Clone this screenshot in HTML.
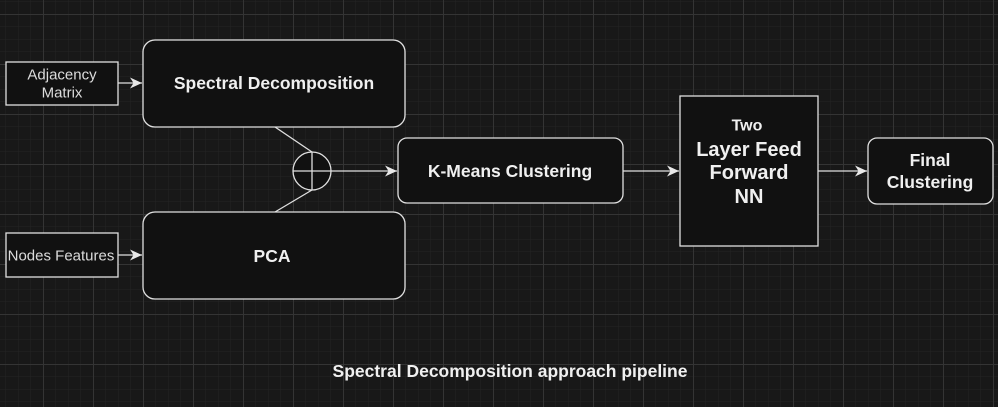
<!DOCTYPE html>
<html><head><meta charset="utf-8"><style>
html,body{margin:0;padding:0;background:#181818;}
svg{display:block}
text{font-family:"Liberation Sans",Arial,sans-serif;fill:#f0f0f0;text-anchor:middle;dominant-baseline:central}
</style></head><body>
<svg width="998" height="407" viewBox="0 0 998 407" xmlns="http://www.w3.org/2000/svg">
<defs>
<pattern id="minor" x="5.5" y="1.5" width="12.5" height="12.5" patternUnits="userSpaceOnUse">
<path d="M0 0H12.5M0 0V12.5" stroke="#242424" stroke-width="1" fill="none"/>
</pattern>
<pattern id="major" x="43" y="14" width="50" height="50" patternUnits="userSpaceOnUse">
<path d="M0 0.5H50M0.5 0V50" stroke="#343434" stroke-width="1" fill="none"/>
</pattern>
<marker id="ar" markerWidth="14" markerHeight="14" refX="12" refY="7" orient="auto" markerUnits="userSpaceOnUse">
<path d="M0 1.5L12 7L0 12.5L3.5 7Z" fill="#e8e8e8"/>
</marker>
</defs>
<rect width="998" height="407" fill="#181818"/>
<rect width="998" height="407" fill="url(#minor)"/>
<rect width="998" height="407" fill="url(#major)"/>
<g stroke="#e0e0e0" stroke-width="1.3" fill="#111">
<rect x="6" y="62" width="112" height="43"/>
<rect x="6" y="233" width="112" height="44"/>
<rect x="143" y="40" width="262" height="87" rx="12"/>
<rect x="143" y="212" width="262" height="87" rx="12"/>
<rect x="398" y="138" width="225" height="65" rx="9"/>
<rect x="680" y="96" width="138" height="150"/>
<rect x="868" y="138" width="125" height="66" rx="9"/>
<circle cx="312" cy="171" r="19"/>
</g>
<g stroke="#e0e0e0" stroke-width="1.3" fill="none">
<line x1="293" y1="171" x2="331" y2="171"/>
<line x1="312" y1="152" x2="312" y2="190"/>
<line x1="275" y1="127" x2="312" y2="152"/>
<line x1="275" y1="212" x2="312" y2="190"/>
<line x1="118" y1="83" x2="142" y2="83" marker-end="url(#ar)"/>
<line x1="118" y1="255" x2="142" y2="255" marker-end="url(#ar)"/>
<line x1="331" y1="171" x2="397" y2="171" marker-end="url(#ar)"/>
<line x1="623" y1="171" x2="679" y2="171" marker-end="url(#ar)"/>
<line x1="818" y1="171" x2="867" y2="171" marker-end="url(#ar)"/>
</g>
<g font-size="15">
<text x="62" y="75" style="fill:#dcdcdc">Adjacency</text>
<text x="62" y="93" style="fill:#dcdcdc">Matrix</text>
<text x="61" y="256" style="fill:#dcdcdc">Nodes Features</text>
</g>
<g font-weight="bold">
<text x="274" y="83" font-size="17.5">Spectral Decomposition</text>
<text x="272" y="256" font-size="17.5">PCA</text>
<text x="510" y="171" font-size="17.5">K-Means Clustering</text>
<text x="747" y="126" font-size="16">Two</text>
<text x="749" y="150" font-size="20">Layer Feed</text>
<text x="749" y="173" font-size="20">Forward</text>
<text x="749" y="197" font-size="20">NN</text>
<text x="930" y="160" font-size="17.5">Final</text>
<text x="930" y="182" font-size="17.5">Clustering</text>
<text x="510" y="371" font-size="17.5">Spectral Decomposition approach pipeline</text>
</g>
</svg>
</body></html>
